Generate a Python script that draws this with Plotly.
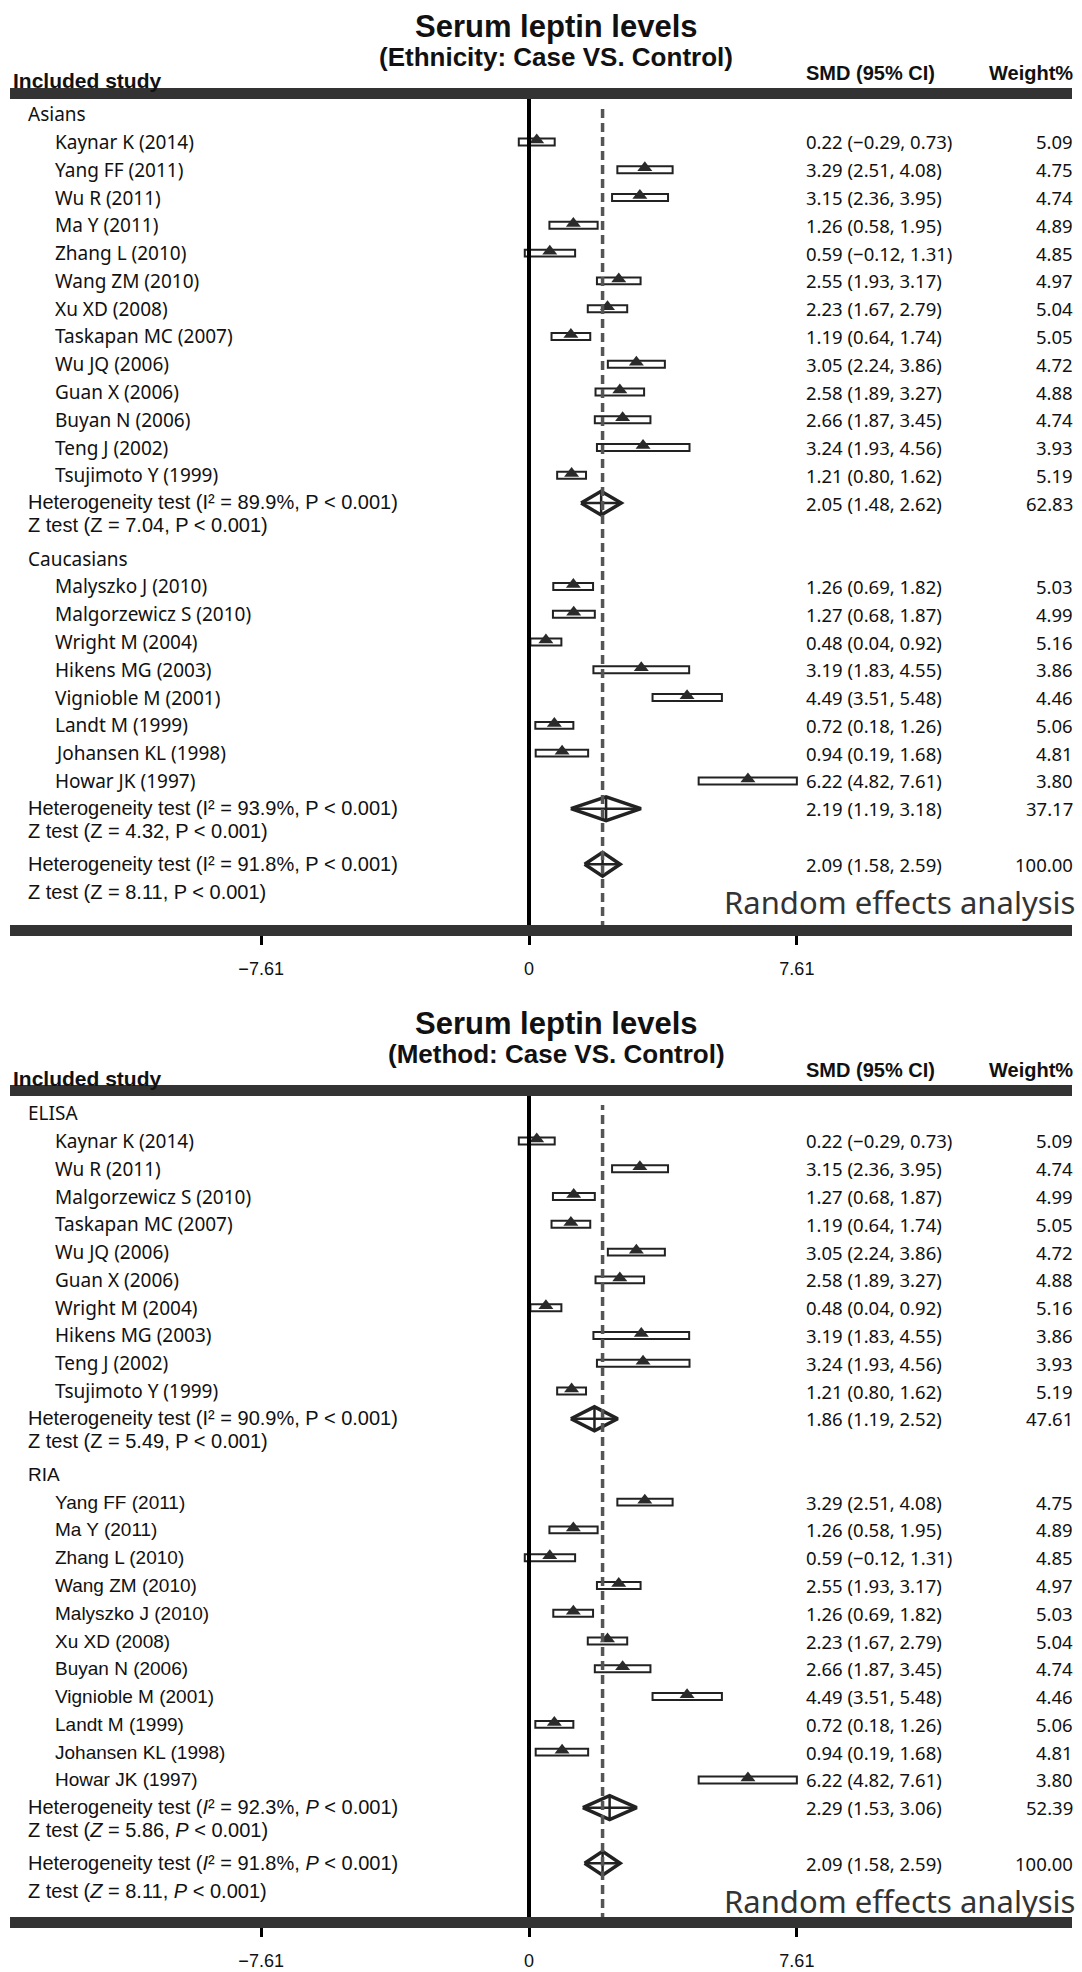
import plotly.graph_objects as go

W, H = 1082, 1972

# ---------------- data ----------------
study_names = ["Kaynar K (2014)", "Yang FF (2011)", "Wu R (2011)", "Ma Y (2011)", "Zhang L (2010)",
               "Wang ZM (2010)", "Xu XD (2008)", "Taskapan MC (2007)", "Wu JQ (2006)", "Guan X (2006)",
               "Buyan N (2006)", "Teng J (2002)", "Tsujimoto Y (1999)", "Malyszko J (2010)",
               "Malgorzewicz S (2010)", "Wright M (2004)", "Hikens MG (2003)", "Vignioble M (2001)",
               "Landt M (1999)", "Johansen KL (1998)", "Howar JK (1997)"]
study_smd = [0.22, 3.29, 3.15, 1.26, 0.59, 2.55, 2.23, 1.19, 3.05, 2.58, 2.66, 3.24, 1.21,
             1.26, 1.27, 0.48, 3.19, 4.49, 0.72, 0.94, 6.22]
study_lo = [-0.29, 2.51, 2.36, 0.58, -0.12, 1.93, 1.67, 0.64, 2.24, 1.89, 1.87, 1.93, 0.80,
            0.69, 0.68, 0.04, 1.83, 3.51, 0.18, 0.19, 4.82]
study_hi = [0.73, 4.08, 3.95, 1.95, 1.31, 3.17, 2.79, 1.74, 3.86, 3.27, 3.45, 4.56, 1.62,
            1.82, 1.87, 0.92, 4.55, 5.48, 1.26, 1.68, 7.61]
study_weight = [5.09, 4.75, 4.74, 4.89, 4.85, 4.97, 5.04, 5.05, 4.72, 4.88, 4.74, 3.93, 5.19,
                5.03, 4.99, 5.16, 3.86, 4.46, 5.06, 4.81, 3.80]

panel_title = "Serum leptin levels"
panel_subtitles = ["(Ethnicity: Case VS. Control)", "(Method: Case VS. Control)"]

ethnicity_groups = ["Asians", "Caucasians"]
ethnicity_members = [
    ["Kaynar K (2014)", "Yang FF (2011)", "Wu R (2011)", "Ma Y (2011)", "Zhang L (2010)",
     "Wang ZM (2010)", "Xu XD (2008)", "Taskapan MC (2007)", "Wu JQ (2006)", "Guan X (2006)",
     "Buyan N (2006)", "Teng J (2002)", "Tsujimoto Y (1999)"],
    ["Malyszko J (2010)", "Malgorzewicz S (2010)", "Wright M (2004)", "Hikens MG (2003)",
     "Vignioble M (2001)", "Landt M (1999)", "Johansen KL (1998)", "Howar JK (1997)"],
]
ethnicity_sub_smd = [2.05, 2.19]
ethnicity_sub_lo = [1.48, 1.19]
ethnicity_sub_hi = [2.62, 3.18]
ethnicity_sub_weight = [62.83, 37.17]
ethnicity_sub_i2 = [89.9, 93.9]
ethnicity_sub_z = [7.04, 4.32]

method_groups = ["ELISA", "RIA"]
method_members = [
    ["Kaynar K (2014)", "Wu R (2011)", "Malgorzewicz S (2010)", "Taskapan MC (2007)", "Wu JQ (2006)",
     "Guan X (2006)", "Wright M (2004)", "Hikens MG (2003)", "Teng J (2002)", "Tsujimoto Y (1999)"],
    ["Yang FF (2011)", "Ma Y (2011)", "Zhang L (2010)", "Wang ZM (2010)", "Malyszko J (2010)",
     "Xu XD (2008)", "Buyan N (2006)", "Vignioble M (2001)", "Landt M (1999)", "Johansen KL (1998)",
     "Howar JK (1997)"],
]
method_sub_smd = [1.86, 2.29]
method_sub_lo = [1.19, 1.53]
method_sub_hi = [2.52, 3.06]
method_sub_weight = [47.61, 52.39]
method_sub_i2 = [90.9, 92.3]
method_sub_z = [5.49, 5.86]

overall_smd = 2.09
overall_lo = 1.58
overall_hi = 2.59
overall_weight = 100.00
overall_i2 = 91.8
overall_z = 8.11

tick_values = [-7.61, 0, 7.61]
tick_labels = ["\u22127.61", "0", "7.61"]

# ---------------- styling / layout constants ----------------
ZERO_PX = 529.0
PX_PER_UNIT = 35.2
ROW_PX = 27.78
TEXT_FONT = "Noto Sans"
ARIAL = "Liberation Sans, Arial"
INK = "#111111"
BAR_COL = "#333333"

NAME_SIZE = 19
HET_SIZE = 20
NUM_SIZE = 18.5
HEAD_SIZE = 20

panel_offset = [0, 997]
panel_row0_px = [114.2, 1113.2]
panel_dom_px = [(93.5, 930.0), (1092.5, 1922.0)]
panel_bottom_bar = [(925, 936), (1917, 1928)]
# italic (I2 / P / Z) for the subgroup 1, subgroup 2, overall rows
panel_italic = [[False, False, False], [False, True, True]]
panel_group_font = [[TEXT_FONT, TEXT_FONT], [TEXT_FONT, ARIAL]]


def fmt_ci(m, lo, hi):
    return f"{m:.2f} ({lo:.2f}, {hi:.2f})".replace("-", "\u2212")


def py(px):
    return 1 - px / H


def het_text(i2, italic):
    I = "<i>I</i>" if italic else "I"
    P = "<i>P</i>" if italic else "P"
    return f"Heterogeneity test ({I}\u00b2 = {i2:.1f}%, {P} &lt; 0.001)"


def z_text(z, italic):
    Z = "<i>Z</i>" if italic else "Z"
    P = "<i>P</i>" if italic else "P"
    return f"Z test ({Z} = {z:.2f}, {P} &lt; 0.001)"


fig = go.Figure()
annotations = []
shapes = []

panels = [
    (ethnicity_groups, ethnicity_members, ethnicity_sub_smd, ethnicity_sub_lo, ethnicity_sub_hi,
     ethnicity_sub_weight, ethnicity_sub_i2, ethnicity_sub_z),
    (method_groups, method_members, method_sub_smd, method_sub_lo, method_sub_hi,
     method_sub_weight, method_sub_i2, method_sub_z),
]

x_range = [-ZERO_PX / PX_PER_UNIT, (W - ZERO_PX) / PX_PER_UNIT]


def ann(text, xpx, y, yref, anchor, size, family, color=INK):
    annotations.append(dict(text=text, x=xpx / W, xref="paper", y=y, yref=yref,
                            xanchor=anchor, yanchor="middle", showarrow=False, borderpad=0,
                            font=dict(family=family, size=size, color=color)))


for k, (groups, members, s_smd, s_lo, s_hi, s_w, s_i2, s_z) in enumerate(panels):
    xa = "x" if k == 0 else "x2"
    ya = "y" if k == 0 else "y2"
    off = panel_offset[k]
    italic = panel_italic[k]

    # titles and header
    ann(f"<b>{panel_title}</b>", 556, py(26 + off), "paper", "center", 31, ARIAL)
    ann(f"<b>{panel_subtitles[k]}</b>", 556, py(57 + off), "paper", "center", 26, ARIAL)
    ann("<b>Included study</b>", 12, py(81 + off), "paper", "left", 21, ARIAL)
    ann("<b>SMD (95% CI)</b>", 805, py(73 + off), "paper", "left", HEAD_SIZE, ARIAL)
    ann("<b>Weight%</b>", 1074, py(73 + off), "paper", "right", HEAD_SIZE, ARIAL)

    rows, xs, los, his = [], [], [], []
    dia = []  # (row, smd, lo, hi)
    r = 0
    last = 0
    for g, gname in enumerate(groups):
        gfont = panel_group_font[k][g]
        ann(gname, 27, r, ya, "left", NAME_SIZE, gfont)
        for name in members[g]:
            r += 1
            i = study_names.index(name)
            rows.append(r)
            xs.append(study_smd[i])
            los.append(study_lo[i])
            his.append(study_hi[i])
            ann(name, 54, r, ya, "left", NAME_SIZE, gfont)
            ann(fmt_ci(study_smd[i], study_lo[i], study_hi[i]), 805, r, ya, "left", NUM_SIZE, TEXT_FONT)
            ann(f"{study_weight[i]:.2f}", 1074, r, ya, "right", NUM_SIZE, TEXT_FONT)
        hr = r + 1
        ann(het_text(s_i2[g], italic[g]), 27, hr - 0.03, ya, "left", HET_SIZE, ARIAL)
        ann(z_text(s_z[g], italic[g]), 27, hr + 0.79, ya, "left", HET_SIZE, ARIAL)
        ann(fmt_ci(s_smd[g], s_lo[g], s_hi[g]), 805, hr, ya, "left", NUM_SIZE, TEXT_FONT)
        ann(f"{s_w[g]:.2f}", 1074, hr, ya, "right", NUM_SIZE, TEXT_FONT)
        dia.append((hr, s_smd[g], s_lo[g], s_hi[g]))
        last = r
        r = r + 3
    # overall rows
    orow = last + 3
    ann(het_text(overall_i2, italic[2]), 27, orow, ya, "left", HET_SIZE, ARIAL)
    ann(z_text(overall_z, italic[2]), 27, orow + 1, ya, "left", HET_SIZE, ARIAL)
    ann(fmt_ci(overall_smd, overall_lo, overall_hi), 805, orow, ya, "left", NUM_SIZE, TEXT_FONT)
    ann(f"{overall_weight:.2f}", 1074, orow, ya, "right", NUM_SIZE, TEXT_FONT)
    ann("Random effects analysis", 1076, orow + 1.35, ya, "right", 31, TEXT_FONT, "#333333")
    dia.append((orow, overall_smd, overall_lo, overall_hi))

    # CI boxes
    fig.add_trace(go.Bar(orientation="h", y=rows, x=[h - l for l, h in zip(los, his)], base=los,
                         width=0.25, marker=dict(color="white", line=dict(color="#222222", width=2)),
                         xaxis=xa, yaxis=ya, hoverinfo="skip"))
    # point estimates
    fig.add_trace(go.Scatter(x=xs, y=[v - 0.07 for v in rows], mode="markers",
                             marker=dict(symbol="triangle-up", size=13, color="#2a2a2a"),
                             xaxis=xa, yaxis=ya, hoverinfo="skip"))
    # diamonds with cross
    hh = 0.43
    for (dr, m, lo, hi) in dia:
        fig.add_trace(go.Scatter(x=[lo, m, hi, m, lo], y=[dr, dr - hh, dr, dr + hh, dr],
                                 mode="lines", fill="toself", fillcolor="white",
                                 line=dict(color="#222222", width=3.5), xaxis=xa, yaxis=ya,
                                 hoverinfo="skip"))
        fig.add_trace(go.Scatter(x=[lo, hi, None, m, m], y=[dr, dr, None, dr - hh, dr + hh],
                                 mode="lines", line=dict(color="#222222", width=2.5),
                                 xaxis=xa, yaxis=ya, hoverinfo="skip"))

    # axes
    top_px, bot_px = panel_dom_px[k]
    r0 = panel_row0_px[k]
    yr = [(bot_px - r0) / ROW_PX, (top_px - r0) / ROW_PX]
    fig.update_layout(**{
        ("xaxis" if k == 0 else "xaxis2"): dict(
            domain=[0, 1], range=x_range, anchor=ya, showgrid=False, zeroline=False,
            showline=False, tickmode="array", tickvals=tick_values, ticktext=tick_labels,
            ticks="outside", ticklen=14, tickwidth=3, tickcolor="black",
            tickfont=dict(family=ARIAL, size=18, color=INK), ticklabelstandoff=8,
            fixedrange=True),
        ("yaxis" if k == 0 else "yaxis2"): dict(
            domain=[py(bot_px), py(top_px)], range=yr, anchor=xa, visible=False,
            showgrid=False, zeroline=False, fixedrange=True),
    })

    yd = ("y" if k == 0 else "y2") + " domain"
    # reference lines
    shapes.append(dict(type="line", xref=xa, yref=yd, x0=overall_smd, x1=overall_smd, y0=0, y1=0.985,
                       line=dict(color="#555555", width=3.5, dash="9px,5px"), layer="above"))
    shapes.append(dict(type="line", xref=xa, yref=yd, x0=0, x1=0, y0=0, y1=1,
                       line=dict(color="black", width=4), layer="above"))
    # header and footer bars
    shapes.append(dict(type="rect", xref="paper", yref="paper", x0=10 / W, x1=1072 / W,
                       y0=py(99 + off), y1=py(88 + off), fillcolor=BAR_COL, line=dict(width=0),
                       layer="above"))
    b0, b1 = panel_bottom_bar[k]
    shapes.append(dict(type="rect", xref="paper", yref="paper", x0=10 / W, x1=1072 / W,
                       y0=py(b1), y1=py(b0), fillcolor=BAR_COL, line=dict(width=0), layer="above"))

fig.update_layout(width=W, height=H, margin=dict(l=0, r=0, t=0, b=0),
                  paper_bgcolor="white", plot_bgcolor="white", showlegend=False,
                  barmode="overlay", annotations=annotations, shapes=shapes)

fig.write_html("out.html", config={"displayModeBar": False, "staticPlot": True},
               post_script="document.body.style.margin='0px';document.body.style.overflow='hidden';")
